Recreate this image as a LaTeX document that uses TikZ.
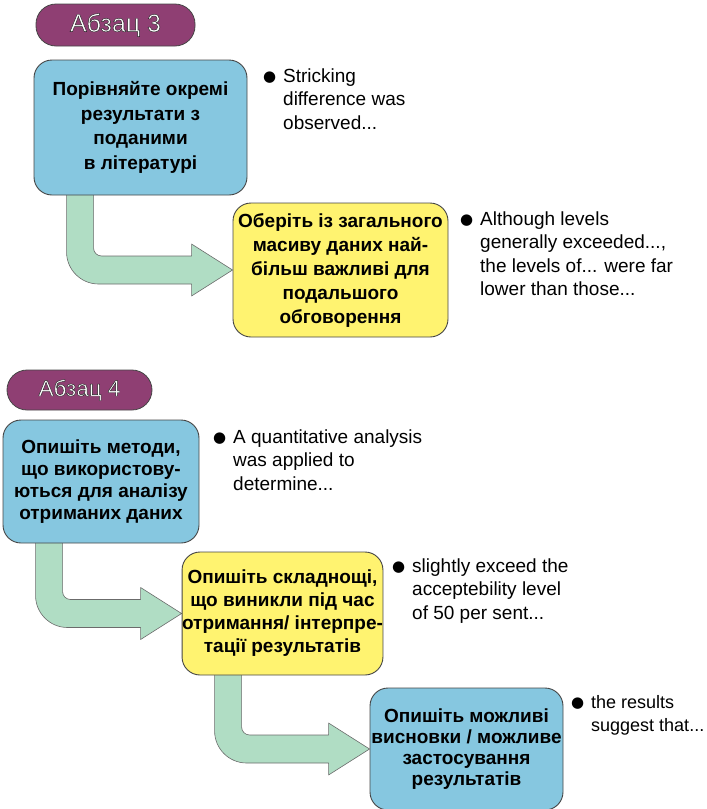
\documentclass[tikz,border=0pt]{standalone}
\usepackage{fontspec}
\setmainfont{Liberation Sans}
\newfontfamily\symfont{DejaVu Sans}
\usetikzlibrary{positioning, calc, shapes}
\definecolor{my_blue}{RGB}{134, 199, 224}
\definecolor{my_yellow}{RGB}{255, 243, 112}
\definecolor{my_green}{RGB}{176, 221, 196}
\definecolor{my_purple}{RGB}{143, 63, 115}
\definecolor{my_border}{RGB}{70, 70, 70}
\tikzset {
  tagbox/.style = {draw=my_border, line width=0.8pt, fill=my_purple, rounded corners=20pt, text=white, inner sep=0pt},
  box/.style = {draw=my_border, line width=0.9pt, rounded corners=18pt, align=center, inner sep=0pt},
  bluebox/.style = {box, fill=my_blue},
  yellowbox/.style = {box, fill=my_yellow},
  note/.style = {anchor=base west, inner sep=0pt, font=\fontsize{19}{23.5}\selectfont},
  bigarrow/.style = {draw=my_border!80, line width=0.6pt, fill=my_green, line join=round},
}
\newcommand{\boxfont}[1]{\bfseries\fontsize{19}{#1}\selectfont}
\newcommand{\dotmark}{\raisebox{1pt}{\symfont\fontsize{15}{15}\selectfont ●}}
\newcommand{\notetext}[1]{\makebox[20pt][l]{\dotmark}\begin{tabular}[t]{@{}l@{}}#1\end{tabular}}
% white letters with a dark rim
\newcommand{\rimtext}[1]{\special{pdf:literal direct 2 Tr 0.15 G 0.45 w}#1\special{pdf:literal direct 0 Tr}}
% fat bent arrow from under one box to the west side of another
\newcommand{\bentarrow}[2]{%
  \path[bigarrow] let \p1 = (#1.south west), \p2 = (#2.west) in
    (\x1+33pt, \y1+5pt) -- (\x1+33pt, \y2+18pt)
    arc[start angle=180, end angle=270, radius=32pt]
    -- (\x2-41pt, \y2-14pt) -- (\x2-41pt, \y2-26pt) -- (\p2)
    -- (\x2-41pt, \y2+26pt) -- (\x2-41pt, \y2+14pt)
    -- (\x1+68pt, \y2+14pt)
    arc[start angle=270, end angle=180, radius=8pt]
    -- (\x1+60pt, \y1+5pt) -- cycle;
}
\pgfdeclarelayer{background}
\pgfsetlayers{background,main}

\begin{document}
\begin{tikzpicture}[x=1pt, y=1pt]
    \useasboundingbox (0,0) rectangle (707,-809);

    % Абзац 3
    \node[tagbox, minimum width=159pt, minimum height=42pt, font=\fontsize{25}{25}\selectfont] (tag3) at (115.5,-25) {\rimtext{Абзац 3}};

    \node[bluebox, minimum width=213pt, minimum height=135pt, font=\boxfont{24.5}] (compare) at (140.5,-127.5) {Порівняйте окремі\\результати з\\поданими\\в літературі};
    \node[note] (note1) at (263,-82) {\notetext{Stricking\\difference was\\observed...}};

    \node[yellowbox, minimum width=215pt, minimum height=134pt, font=\boxfont{24}] (select) at (340.5,-270) {Оберіть із загального\\масиву даних най-\\більш важливі для\\подальшого\\обговорення};
    \node[note] (note2) at (460,-225) {\notetext{Although levels\\generally exceeded...,\\the levels of... were far\\lower than those...}};

    % Абзац 4
    \node[tagbox, minimum width=145pt, minimum height=40pt, font=\fontsize{22.5}{22.5}\selectfont] (tag4) at (79.5,-390) {\rimtext{Абзац 4}};

    \node[bluebox, minimum width=196pt, minimum height=123pt, font=\boxfont{22}] (methods) at (101,-481.5) {Опишіть методи,\\що використову-\\ються для аналізу\\отриманих даних};
    \node[note] (note3) at (213,-443) {\notetext{A quantitative analysis\\was applied to\\determine...}};

    \node[yellowbox, minimum width=195pt, minimum height=123pt, font=\boxfont{23}] (problems) at (282.5,-613.5) {Опишіть складнощі,\\що виникли під час\\отримання/ інтерпре-\\тації результатів};
    \node[note] (note4) at (392,-572) {\notetext{slightly exceed the\\acceptebility level\\of 50 per sent...}};

    \node[bluebox, minimum width=193pt, minimum height=122pt, font=\boxfont{21}] (outcome) at (466.5,-749) {Опишіть можливі\\висновки / можливе\\застосування\\результатів};
    \node[note, font=\fontsize{18}{23.5}\selectfont] (note5) at (571,-708) {\notetext{the results\\suggest that...}};

    \begin{pgfonlayer}{background}
        \bentarrow{compare}{select}
        \bentarrow{methods}{problems}
        \bentarrow{problems}{outcome}
    \end{pgfonlayer}

\end{tikzpicture}
\end{document}
